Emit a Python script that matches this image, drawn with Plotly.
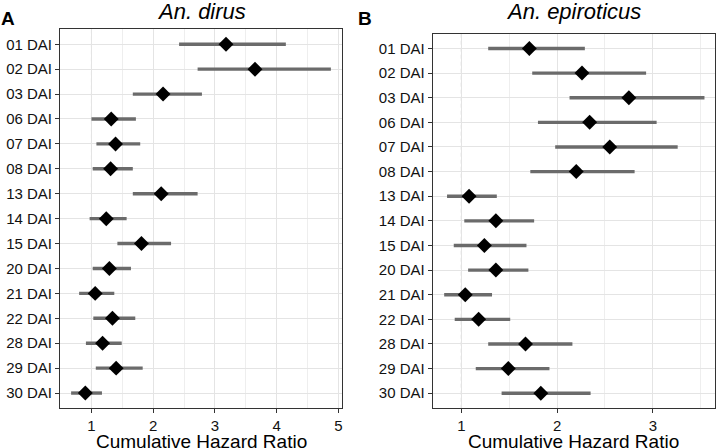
import plotly.graph_objects as go

categories = ["01 DAI", "02 DAI", "03 DAI", "06 DAI", "07 DAI", "08 DAI", "13 DAI", "14 DAI",
              "15 DAI", "20 DAI", "21 DAI", "22 DAI", "28 DAI", "29 DAI", "30 DAI"]

dirus_hr = [3.18, 3.65, 2.16, 1.32, 1.39, 1.31, 2.13, 1.24, 1.81, 1.29, 1.06, 1.34, 1.18, 1.40, 0.90]
dirus_lo = [2.42, 2.72, 1.67, 1.00, 1.08, 1.02, 1.67, 0.97, 1.42, 1.02, 0.80, 1.03, 0.91, 1.07, 0.67]
dirus_hi = [4.15, 4.88, 2.79, 1.72, 1.79, 1.67, 2.72, 1.57, 2.29, 1.64, 1.37, 1.71, 1.49, 1.83, 1.17]

epi_hr = [1.71, 2.26, 2.75, 2.34, 2.55, 2.20, 1.08, 1.36, 1.24, 1.36, 1.04, 1.18, 1.67, 1.49, 1.83]
epi_lo = [1.28, 1.74, 2.13, 1.80, 1.98, 1.72, 0.85, 1.03, 0.92, 1.07, 0.82, 0.93, 1.28, 1.15, 1.42]
epi_hi = [2.29, 2.93, 3.54, 3.04, 3.26, 2.81, 1.37, 1.76, 1.68, 1.70, 1.32, 1.51, 2.16, 1.92, 2.35]

panel_titles = ["An. dirus", "An. epiroticus"]
panel_tags = ["A", "B"]
x_title = "Cumulative Hazard Ratio"

W, H = 716, 448
FONT = "Liberation Sans, Arial, sans-serif"
TXT = "#111111"

def px_x(p):
    return p / W

def px_y(p):
    return 1 - p / H

fig = go.Figure()

ypos = list(range(len(categories)))
panels = [
    (dirus_hr, dirus_lo, dirus_hi, "x", "y"),
    (epi_hr, epi_lo, epi_hi, "x2", "y2"),
]
for hr, lo, hi, xa, ya in panels:
    xs, ys = [], []
    for i in range(len(categories)):
        xs += [lo[i], hi[i], None]
        ys += [ypos[i], ypos[i], None]
    fig.add_trace(go.Scatter(x=xs, y=ys, mode="lines", xaxis=xa, yaxis=ya,
                             line=dict(color="#6b6b6b", width=3.4), hoverinfo="skip",
                             showlegend=False))
    fig.add_trace(go.Scatter(x=hr, y=ypos, mode="markers", xaxis=xa, yaxis=ya,
                             marker=dict(symbol="diamond", size=11.5, color="black",
                                         line=dict(width=0)),
                             showlegend=False))
    fig.add_shape(type="line", xref=xa, yref=ya, x0=1, x1=1,
                  y0=-0.6, y1=len(categories) - 0.4, layer="below",
                  line=dict(color="#8c8c8c", width=1, dash="4px,3px"))

x_dom_a = [px_x(60), px_x(342)]
x_dom_b = [px_x(432.7), px_x(715)]
y_dom_a = [px_y(408), px_y(29.3)]
y_dom_b = [px_y(408), px_y(33.7)]

common_x = dict(showline=True, linecolor="#333333", linewidth=1, mirror=True,
                ticks="outside", ticklen=4, tickcolor="#333333", tickwidth=1,
                showgrid=True, gridcolor="#e4e4e4", gridwidth=1.4, zeroline=False,
                automargin=False,
                tickfont=dict(family=FONT, size=15, color=TXT), dtick=1, tick0=0,
                minor=dict(dtick=0.5, tick0=0, showgrid=True, gridcolor="#eeeeee",
                           gridwidth=0.8, ticks=""))
common_y = dict(showline=True, linecolor="#333333", linewidth=1, mirror=True,
                ticks="outside", ticklen=4, tickcolor="#333333", tickwidth=1,
                showgrid=True, gridcolor="#e4e4e4", gridwidth=1.4, zeroline=False,
                automargin=False,
                tickfont=dict(family=FONT, size=15, color=TXT),
                tickmode="array", tickvals=ypos, ticktext=categories,
                range=[len(categories) - 0.4, -0.6])

fig.update_layout(
    width=W, height=H,
    margin=dict(l=0, r=0, t=0, b=0, pad=0),
    paper_bgcolor="white", plot_bgcolor="white",
    xaxis=dict(domain=x_dom_a, range=[0.49, 5.06], anchor="y", **common_x),
    yaxis=dict(domain=y_dom_a, anchor="x", **common_y),
    xaxis2=dict(domain=x_dom_b, range=[0.70, 3.65], anchor="y2", **common_x),
    yaxis2=dict(domain=y_dom_b, anchor="x2", **common_y),
)

ann = []
centers = [(60 + 342) / 2, (432.7 + 715) / 2]
for c, t in zip(centers, panel_titles):
    ann.append(dict(text="<i>" + t + "</i>", x=px_x(c), y=px_y(-3), xref="paper", yref="paper",
                    xanchor="center", yanchor="top", showarrow=False,
                    font=dict(family=FONT, size=22, color="black")))
    ann.append(dict(text=x_title, x=px_x(c), y=px_y(429), xref="paper", yref="paper",
                    xanchor="center", yanchor="top", showarrow=False,
                    font=dict(family=FONT, size=19, color="black")))
for xpos, tag in zip([-1, 356], panel_tags):
    ann.append(dict(text="<b>" + tag + "</b>", x=px_x(xpos), y=px_y(6), xref="paper", yref="paper",
                    xanchor="left", yanchor="top", showarrow=False,
                    font=dict(family=FONT, size=19, color="black")))
fig.update_layout(annotations=ann)

fig.write_html("out.html", config={"displayModeBar": False},
               post_script="document.body.style.margin='0';document.body.style.overflow='hidden';")
